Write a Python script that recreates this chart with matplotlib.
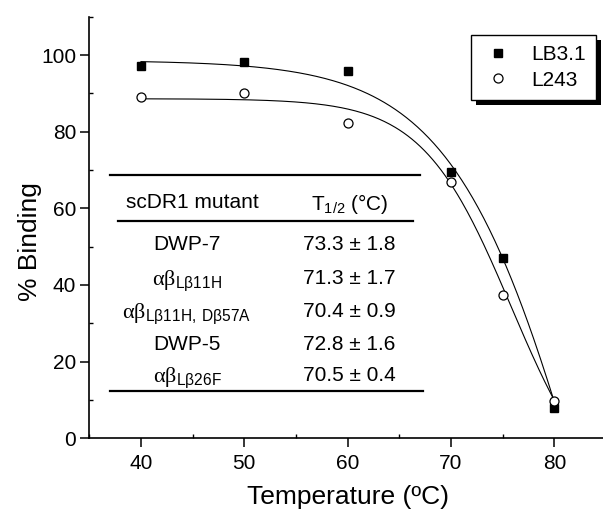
import numpy as np
import matplotlib
matplotlib.use('Agg')
import matplotlib.pyplot as plt
import matplotlib.patheffects as pe
from matplotlib.ticker import MultipleLocator

# ── Style ────────────────────────────────────────────────────────────────────
plt.rcParams.update({
    'font.family':       'Liberation Sans',
    'font.size':          15,
    'mathtext.fontset':  'custom',
    'mathtext.rm':       'Liberation Serif',
    'mathtext.it':       'Liberation Serif:italic',
    'mathtext.sf':       'Liberation Sans',
})

# ── Data ─────────────────────────────────────────────────────────────────────
temps = [40, 50, 60, 70, 75, 80]
lb31  = [97.1, 98.2, 95.8, 69.6, 47.1, 7.9]
l243  = [89.0, 90.0, 82.2, 67.0, 37.5, 9.7]

# Boltzmann fit parameters (top, bottom, x0, dx)
FIT_LB31 = (98.6, -150.0, 83.84, 6.6)
FIT_L243 = (88.6, -20.0, 75.83, 4.31)

mutants = ['DWP-7',
           r'$\mathrm{\alpha\beta}_{\mathsf{L\beta11H}}$',
           r'$\mathrm{\alpha\beta}_{\mathsf{L\beta11H,\ D\beta57A}}$',
           'DWP-5',
           r'$\mathrm{\alpha\beta}_{\mathsf{L\beta26F}}$']
t_half  = ['73.3 \u00b1 1.8', '71.3 \u00b1 1.7', '70.4 \u00b1 0.9',
           '72.8 \u00b1 1.6', '70.5 \u00b1 0.4']


def boltzmann(x, top, bottom, x0, dx):
    return bottom + (top - bottom) / (1 + np.exp((x - x0) / dx))


# ── Figure ───────────────────────────────────────────────────────────────────
fig = plt.figure(figsize=(6.03, 5.09), dpi=100)
ax = fig.add_axes([0.1481, 0.1389, 0.8569, 0.8283])

xf = np.linspace(min(temps), max(temps), 300)
ax.plot(xf, boltzmann(xf, *FIT_LB31), color='k', lw=0.8)
ax.plot(xf, boltzmann(xf, *FIT_L243), color='k', lw=0.8)
ax.plot(temps, lb31, 's', color='k', ms=6, label='LB3.1', zorder=3)
ax.plot(temps, l243, 'o', mfc='white', mec='k', mew=0.9, ms=6.5,
        label='L243', zorder=3)

ax.set_xlim(35, 85)
ax.set_ylim(0, 110)
ax.xaxis.set_major_locator(MultipleLocator(10))
ax.xaxis.set_minor_locator(MultipleLocator(5))
ax.yaxis.set_major_locator(MultipleLocator(20))
ax.yaxis.set_minor_locator(MultipleLocator(10))
ax.tick_params(which='major', direction='out', length=6.5, width=1.1,
               labelsize=15, pad=3)
ax.tick_params(axis='x', which='major', pad=5)
ax.tick_params(which='minor', direction='in', length=3, width=1.0)
for s in ['top', 'right']:
    ax.spines[s].set_visible(False)
for s in ['left', 'bottom']:
    ax.spines[s].set_linewidth(1.2)

fig.text(348 / 603, 1 - 504 / 509, 'Temperature (\u00baC)', fontsize=19,
         ha='center', va='baseline')
fig.text(30 / 603, 1 - 242 / 509, '% Binding', fontsize=19,
         ha='center', va='center', rotation=90)

# ── Legend with solid shadow ────────────────────────────────────────────────
leg = ax.legend(loc='upper right', bbox_to_anchor=(596 / 603, 1 - 35 / 509),
                bbox_transform=fig.transFigure, borderaxespad=0,
                fancybox=False, edgecolor='k', framealpha=1, fontsize=15,
                numpoints=1, handlelength=1.63, handletextpad=0.77,
                borderpad=0.5, labelspacing=0.3)
leg.get_frame().set_linewidth(1.0)
leg.get_frame().set_path_effects([
    pe.SimplePatchShadow(offset=(3.8, -3.8), shadow_rgbFace='k', alpha=1),
    pe.Normal()])

# ── Inset table ──────────────────────────────────────────────────────────────
def fx(px):
    return (px - 89.3) / 516.7


def fy(py):
    return (438.3 - py) / 421.6


tr = ax.transAxes
ax.plot([fx(110), fx(420)], [fy(175), fy(175)], color='k', lw=1.6,
        transform=tr, clip_on=False)
ax.plot([fx(118), fx(413)], [fy(221.5), fy(221.5)], color='k', lw=1.6,
        transform=tr, clip_on=False)
ax.plot([fx(110), fx(423)], [fy(391), fy(391)], color='k', lw=1.6,
        transform=tr, clip_on=False)

ax.text(fx(192.5), fy(201), 'scDR1 mutant', transform=tr, fontsize=15,
        ha='center', va='center_baseline')
ax.text(fx(350), fy(201), r'T$_{\mathsf{1/2}}$ (' + '\u00b0C)', transform=tr,
        fontsize=15, ha='center', va='center_baseline')

row_y = [243, 277, 310, 343, 374]
for name, val, py in zip(mutants, t_half, row_y):
    ax.text(fx(187), fy(py), name, transform=tr,
            fontsize=16 if name.startswith('$') else 15,
            ha='center', va='center_baseline')
    ax.text(fx(349), fy(py), val, transform=tr, fontsize=15,
            ha='center', va='center_baseline')

fig.savefig('out.png', dpi=100)
